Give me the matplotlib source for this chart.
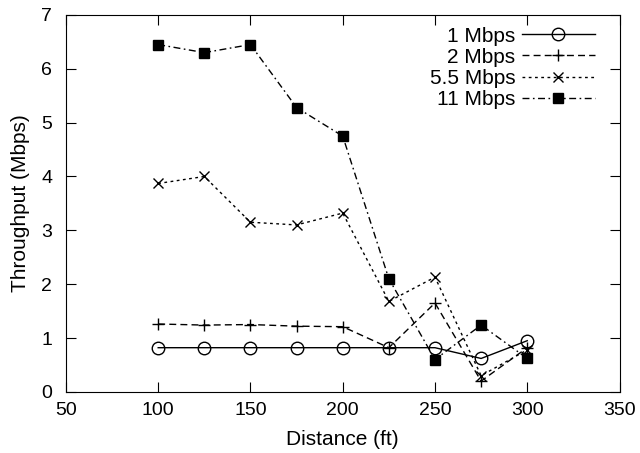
import numpy as np
import matplotlib.pyplot as plt

plt.rcParams['font.family'] = ['Liberation Sans', 'DejaVu Sans']

# distances (ft) and measured throughput for each rate
distance = [100, 125, 150, 175, 200, 225, 250, 275, 300]
tp_1 = [0.82, 0.82, 0.82, 0.82, 0.82, 0.82, 0.82, 0.62, 0.95]
tp_2 = [1.26, 1.24, 1.25, 1.22, 1.21, 0.82, 1.65, 0.20, 0.82]
tp_55 = [3.87, 4.00, 3.15, 3.10, 3.32, 1.68, 2.13, 0.30, 0.78]
tp_11 = [6.45, 6.30, 6.45, 5.28, 4.75, 2.10, 0.60, 1.24, 0.62]

fig, ax = plt.subplots(figsize=(6.4, 4.53), dpi=100)

ax.plot(distance, tp_1, 'k-', marker='o', mfc='none', ms=9, lw=1, label='1 Mbps')
ax.plot(distance, tp_2, 'k--', marker='+', ms=8, lw=1, dashes=(5, 3), label='2 Mbps')
ax.plot(distance, tp_55, 'k:', marker='x', ms=7, lw=1, dashes=(2, 2.5), label='5.5 Mbps')
ax.plot(distance, tp_11, 'k-.', marker='s', ms=7, lw=1, dashes=(5, 2.5, 1.2, 2.5), label='11 Mbps')

ax.set_xlim(50, 350)
ax.set_ylim(0, 7)
ax.set_xticks(np.arange(50, 351, 50))
ax.set_yticks(np.arange(0, 8, 1))
ax.tick_params(direction='in', top=True, right=True, labelsize=14, length=7)
ax.tick_params(axis='y', pad=10)
ax.tick_params(axis='x', pad=7)
ax.set_xlabel('Distance (ft)', fontsize=15, labelpad=8)
ax.set_ylabel('Throughput (Mbps)', fontsize=15, labelpad=8)

leg = ax.legend(loc='upper right', bbox_to_anchor=(0.955, 0.969), frameon=False,
                fontsize=15, markerfirst=False, handlelength=3.5, handletextpad=0.3,
                labelspacing=0.1, borderaxespad=0, borderpad=0)
leg._legend_box.align = 'right'
for t in leg.get_texts():
    t.set_horizontalalignment('right')

plt.subplots_adjust(left=0.103, right=0.968, top=0.967, bottom=0.135)
plt.savefig('out.png')
